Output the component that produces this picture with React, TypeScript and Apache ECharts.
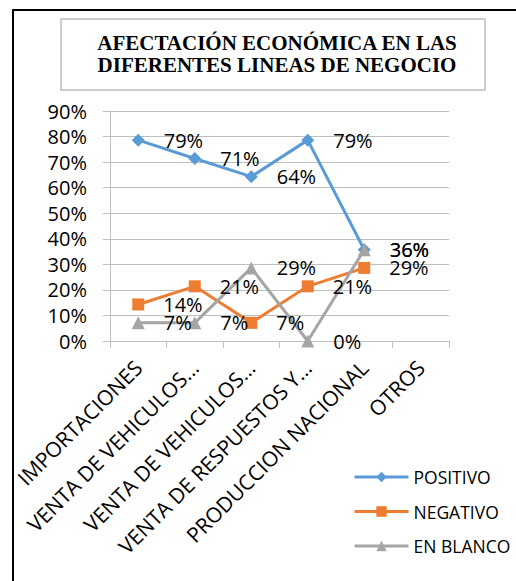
import React, { useEffect, useRef } from "react";
import * as echarts from "echarts";

const categories = [
  "IMPORTACIONES",
  "VENTA DE VEHICULOS…",
  "VENTA DE VEHICULOS…",
  "VENTA DE RESPUESTOS Y…",
  "PRODUCCION NACIONAL",
  "OTROS",
];
const positivo = [0.786, 0.714, 0.643, 0.786, 0.357, null];
const negativo = [0.143, 0.214, 0.071, 0.214, 0.286, null];
const enBlanco = [0.071, 0.071, 0.286, 0, 0.357, null];
const titleLines = ["AFECTACIÓN ECONÓMICA EN LAS", "DIFERENTES LINEAS DE NEGOCIO"];

const FONT = '"Open Sans", "Noto Sans", sans-serif';
const pct = (v: number) => Math.round(v * 100) + "%";

export default function App() {
  const ref = useRef<HTMLDivElement>(null);
  useEffect(() => {
    if (!ref.current) return;
    const chart = echarts.init(ref.current, null, { renderer: "svg" });
    const labelCfg = {
      show: true,
      position: "right" as const,
      distance: 19,
      color: "#000",
      fontSize: 20,
      fontFamily: FONT,
      formatter: (p: any) => pct(p.value),
    };
    const mk = (name: string, data: any[], color: string, symbol: string, size: number) => ({
      name,
      type: "line",
      data,
      symbol,
      symbolSize: size,
      showAllSymbol: true,
      lineStyle: { color, width: 3 },
      itemStyle: { color },
      label: labelCfg,
    });
    chart.setOption({
      animation: false,
      backgroundColor: "#fff",
      graphic: [
        {
          type: "rect",
          shape: { x: 13, y: 10, width: 700, height: 800 },
          style: { fill: "none", stroke: "#000", lineWidth: 2 },
          silent: true,
        },
        {
          type: "rect",
          shape: { x: 61, y: 19, width: 424, height: 71 },
          style: { fill: "#fff", stroke: "#bfbfbf", lineWidth: 1.5 },
          silent: true,
        },
        {
          type: "text",
          x: 277,
          y: 43,
          style: {
            text: titleLines[0],
            font: 'bold 21px "Liberation Serif", "Times New Roman", serif',
            fill: "#000",
            align: "center",
            verticalAlign: "middle",
          },
        },
        {
          type: "text",
          x: 277,
          y: 65,
          style: {
            text: titleLines[1],
            font: 'bold 21px "Liberation Serif", "Times New Roman", serif',
            fill: "#000",
            align: "center",
            verticalAlign: "middle",
          },
        },
      ],
      grid: { left: 110, right: 67, top: 111, bottom: 240, containLabel: false },
      xAxis: {
        type: "category",
        data: categories,
        boundaryGap: true,
        axisLine: { show: true, lineStyle: { color: "#bfbfbf", width: 1 } },
        axisTick: { show: true, length: 7, lineStyle: { color: "#bfbfbf" }, alignWithLabel: false },
        axisLabel: {
          interval: 0,
          rotate: 45,
          margin: 23,
          color: "#000",
          fontSize: 21,
          fontFamily: FONT,
        },
        splitLine: { show: false },
      },
      yAxis: {
        type: "value",
        min: 0,
        max: 0.9,
        interval: 0.1,
        axisLine: { show: true, lineStyle: { color: "#bfbfbf", width: 1 } },
        axisTick: { show: true, length: 7, lineStyle: { color: "#bfbfbf" } },
        axisLabel: {
          margin: 23,
          color: "#000",
          fontSize: 20,
          fontFamily: FONT,
          formatter: (v: number) => pct(v),
        },
        splitLine: { show: true, lineStyle: { color: "#bfbfbf", width: 1 } },
      },
      legend: {
        orient: "vertical",
        left: 348,
        top: 462,
        itemWidth: 54,
        itemHeight: 13,
        itemGap: 14.5,
        lineStyle: { width: 3 },
        textStyle: { color: "#000", fontSize: 17.5, lineHeight: 20, fontFamily: FONT },
        data: ["POSITIVO", "NEGATIVO", "EN BLANCO"],
      },
      series: [
        mk("POSITIVO", positivo, "#5B9BD5", "diamond", 13),
        mk("NEGATIVO", negativo, "#ED7D31", "rect", 12),
        mk("EN BLANCO", enBlanco, "#A5A5A5", "triangle", 13),
      ],
    });
    return () => chart.dispose();
  }, []);
  return (
    <div
      ref={ref}
      style={{ position: "fixed", left: 0, top: 0, width: 516, height: 581 }}
    />
  );
}
